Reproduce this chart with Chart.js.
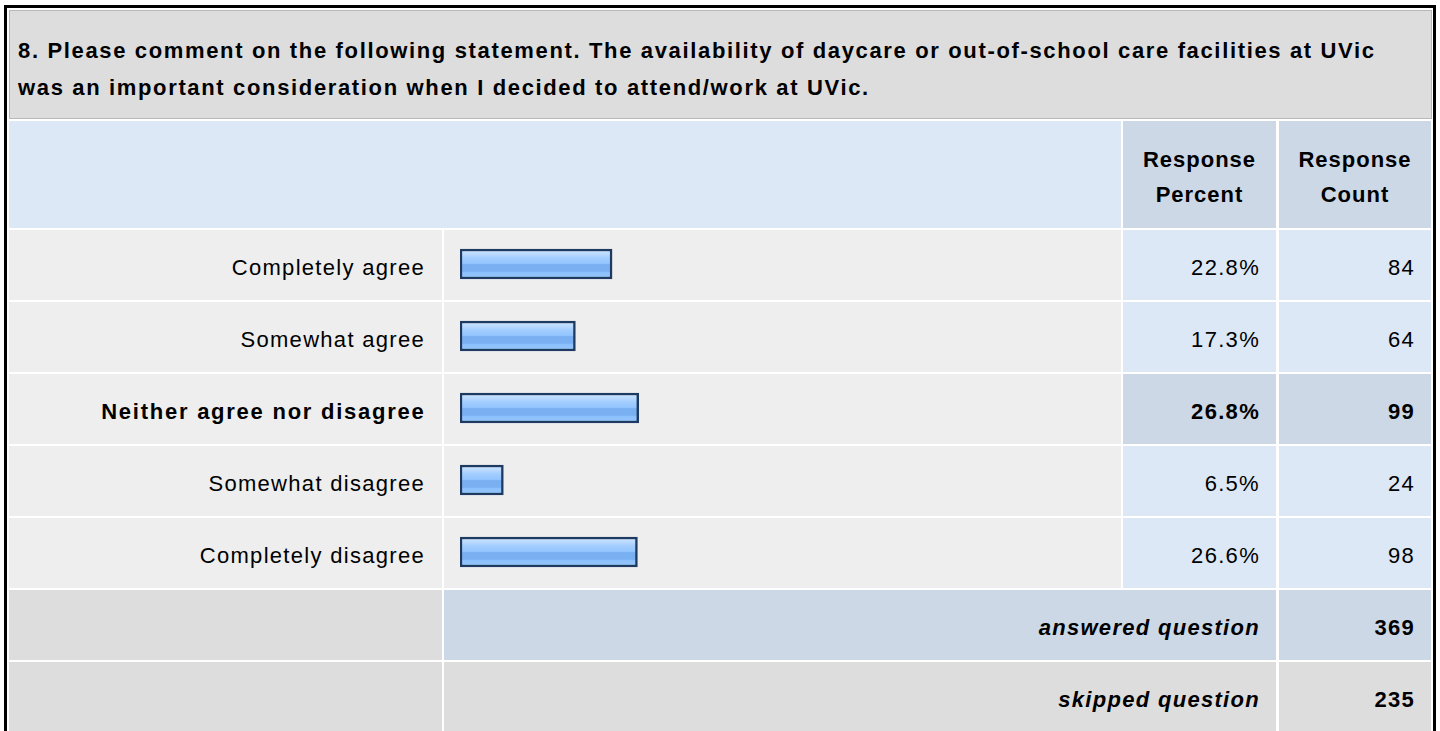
<!DOCTYPE html>
<html><head><meta charset="utf-8">
<script src="https://cdn.jsdelivr.net/npm/chart.js@4.4.1/dist/chart.umd.min.js"></script>
<style>
html,body{margin:0;padding:0;background:#fff;width:1440px;height:731px;overflow:hidden;font-family:"Liberation Sans",Arial,sans-serif;color:#000;}
.frame{position:absolute;left:4px;top:5px;width:1432px;height:800px;border:3px solid #000;box-sizing:border-box;}
.c{position:absolute;box-sizing:border-box;font-size:22px;letter-spacing:1.3px;white-space:nowrap;}
.title{left:9px;top:10px;width:1423px;height:109px;background:#dddddd;border:1px solid #b8b8b8;font-weight:bold;line-height:37px;padding:20.5px 0 0 8px;letter-spacing:1.65px;}
.hl{background:#dde8f6;}
.hd{background:#ccd8e6;font-weight:bold;text-align:center;line-height:35px;padding-top:21px;letter-spacing:1.0px;}
.row{line-height:70px;padding-top:3px;}
.lab{background:#eeeeee;text-align:right;padding-right:17px;}
.lab.b{letter-spacing:1.75px;padding-right:16.5px;}
.bar{background:#eeeeee;}
.num{background:#dde8f6;text-align:right;padding-right:16px;}
.b{font-weight:bold;}
.hi{background:#ccd8e6;}
.grey{background:#dddddd;}
#chartBox{position:absolute;left:444px;top:228px;width:683px;height:360px;}
</style></head>
<body>
<div class="frame"></div>
<div id="root"></div>
<div id="chartBox"><canvas id="cv" width="683" height="360"></canvas></div>
<script>
const questionTitle = ["8. Please comment on the following statement. The availability of daycare or out-of-school care facilities at UVic", "was an important consideration when I decided to attend/work at UVic."];
const headerPercent = ["Response", "Percent"];
const headerCount = ["Response", "Count"];
const categories = ["Completely agree", "Somewhat agree", "Neither agree nor disagree", "Somewhat disagree", "Completely disagree"];
const percents = [22.8, 17.3, 26.8, 6.5, 26.6];
const counts = [84, 64, 99, 24, 98];
const highlighted = [false, false, true, false, false];
const summaryLabels = ["answered question", "skipped question"];
const summaryCounts = [369, 235];

const root = document.getElementById('root');
function cell(cls, x, y, w, h, html) {
  const d = document.createElement('div');
  d.className = 'c ' + cls;
  d.style.left = x + 'px'; d.style.top = y + 'px';
  d.style.width = w + 'px'; d.style.height = h + 'px';
  if (html !== undefined) d.innerHTML = html;
  root.appendChild(d);
  return d;
}
const t = document.createElement('div');
t.className = 'c title';
t.innerHTML = questionTitle.join('<br>');
root.appendChild(t);
cell('hl', 9, 121, 1112, 107);
cell('hd', 1123, 121, 153, 107, headerPercent.join('<br>'));
cell('hd', 1279, 121, 152, 107, headerCount.join('<br>'));
categories.forEach((name, i) => {
  const y = 230 + i * 72;
  const hi = highlighted[i];
  cell('row lab' + (hi ? ' b' : ''), 9, y, 433, 70, name);
  cell('row bar', 444, y, 677, 70);
  cell('row num' + (hi ? ' b hi' : ''), 1123, y, 153, 70, percents[i].toFixed(1) + '%');
  cell('row num' + (hi ? ' b hi' : ''), 1279, y, 152, 70, String(counts[i]));
});
summaryLabels.forEach((lab, i) => {
  const y = 590 + i * 72;
  cell('row grey', 9, y, 433, 70);
  cell('row num b ' + (i === 0 ? 'hi' : 'grey'), 444, y, 832, 70, '<i>' + lab + '</i>');
  cell('row num b ' + (i === 0 ? 'hi' : 'grey'), 1279, y, 152, 70, String(summaryCounts[i]));
});

function barFill(ctx) {
  const chart = ctx.chart;
  const flat = '#8fc2ff';
  if (ctx.dataIndex === undefined || !chart.scales || !chart.scales.y) return flat;
  const c = chart.scales.y.getPixelForValue(ctx.dataIndex);
  if (!Number.isFinite(c)) return flat;
  const g = chart.ctx.createLinearGradient(0, c - 15, 0, c + 15);
  g.addColorStop(0.00, '#d2e7ff');
  g.addColorStop(0.18, '#b9d9ff');
  g.addColorStop(0.30, '#a3cdff');
  g.addColorStop(0.48, '#93c5ff');
  g.addColorStop(0.52, '#79b0f2');
  g.addColorStop(0.74, '#79b0f2');
  g.addColorStop(0.78, '#8cc0fd');
  g.addColorStop(1.00, '#98c9ff');
  return g;
}

new Chart(document.getElementById('cv'), {
  type: 'bar',
  data: {
    labels: categories,
    datasets: [{
      data: percents,
      backgroundColor: barFill,
      borderColor: '#1f3a60',
      borderWidth: 2.5,
      borderSkipped: false,
      barThickness: 30
    }]
  },
  options: {
    indexAxis: 'y',
    responsive: false,
    devicePixelRatio: 1,
    animation: false,
    layout: { padding: { left: 16, right: 0, top: 0, bottom: 0 } },
    scales: {
      x: { display: false, min: 0, max: 100 },
      y: { display: false }
    },
    plugins: { legend: { display: false }, tooltip: { enabled: false } }
  }
});
</script>
</body></html>
